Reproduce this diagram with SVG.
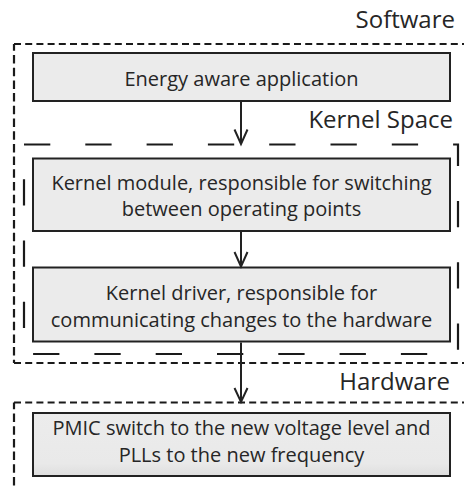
<svg xmlns="http://www.w3.org/2000/svg" width="464" height="487" viewBox="0 0 464 487">
  <style>
    .box { fill: #ebebeb; stroke: #222; stroke-width: 2; }
    .txt { font-family: "Open Sans", "Liberation Sans", sans-serif; font-size: 20px; fill: #262626; text-anchor: middle; }
    .lbl { font-family: "Open Sans", "Liberation Sans", sans-serif; font-size: 24px; fill: #262626; text-anchor: end; }
    .dh { fill: none; stroke: #1a1a1a; stroke-width: 2.2; stroke-dasharray: 7 4.2; }
    .dv { fill: none; stroke: #1a1a1a; stroke-width: 2.2; stroke-dasharray: 8.5 4.2; stroke-dashoffset: 1.7; }
    .dk { fill: none; stroke: #1a1a1a; stroke-width: 2.2; stroke-dasharray: 26.3 35; }
    .conn { fill: none; stroke: #222; stroke-width: 2; }
  </style>
  <defs>
    <linearGradient id="hwfill" x1="0" y1="0" x2="0" y2="1">
      <stop offset="0" stop-color="#ececec"/>
      <stop offset="0.8" stop-color="#e9e9e9"/>
      <stop offset="1" stop-color="#dedede"/>
    </linearGradient>
  </defs>

  <g id="software">
    <path class="dh" d="M14,44 H470"/>
    <path class="dv" d="M14,44 V363"/>
    <path class="dh" d="M14,363 H470"/>
    <text class="lbl" x="455" y="27.5">Software</text>
  </g>

  <g id="kernel-space">
    <rect class="dk" x="24" y="144.5" width="434" height="209.5"/>
    <text class="lbl" x="453" y="128">Kernel Space</text>
  </g>

  <g id="hardware">
    <path class="dh" d="M14,402.5 H470"/>
    <path class="dv" d="M14,402.5 V490"/>
    <text class="lbl" x="450" y="390">Hardware</text>
  </g>

  <g id="app">
    <rect class="box" x="33" y="53" width="417" height="48"/>
    <text class="txt" x="241.5" y="86">Energy aware application</text>
  </g>

  <g id="kernel-module">
    <rect class="box" x="33" y="158.5" width="417" height="72.5"/>
    <text class="txt" x="241.5" y="190">Kernel module, responsible for switching</text>
    <text class="txt" x="241.5" y="216">between operating points</text>
  </g>

  <g id="kernel-driver">
    <rect class="box" x="33" y="267.5" width="417" height="74"/>
    <text class="txt" x="241.5" y="299.5">Kernel driver, responsible for</text>
    <text class="txt" x="241.5" y="326.5">communicating changes to the hardware</text>
  </g>

  <g id="pmic">
    <rect class="box" x="33" y="413" width="417" height="63" style="fill:url(#hwfill)"/>
    <text class="txt" x="241.5" y="435">PMIC switch to the new voltage level and</text>
    <text class="txt" x="241.5" y="461.5">PLLs to the new frequency</text>
  </g>

  <g id="connectors">
    <path class="conn" d="M241,102 V144"/>
    <path class="conn" d="M234.5,129.5 L241,144 L247.5,129.5"/>
    <path class="conn" d="M241,232 V266.5"/>
    <path class="conn" d="M234.5,252 L241,266.5 L247.5,252"/>
    <path class="conn" d="M241,342.5 V402"/>
    <path class="conn" d="M234.5,388 L241,402 L247.5,388"/>
  </g>
</svg>
